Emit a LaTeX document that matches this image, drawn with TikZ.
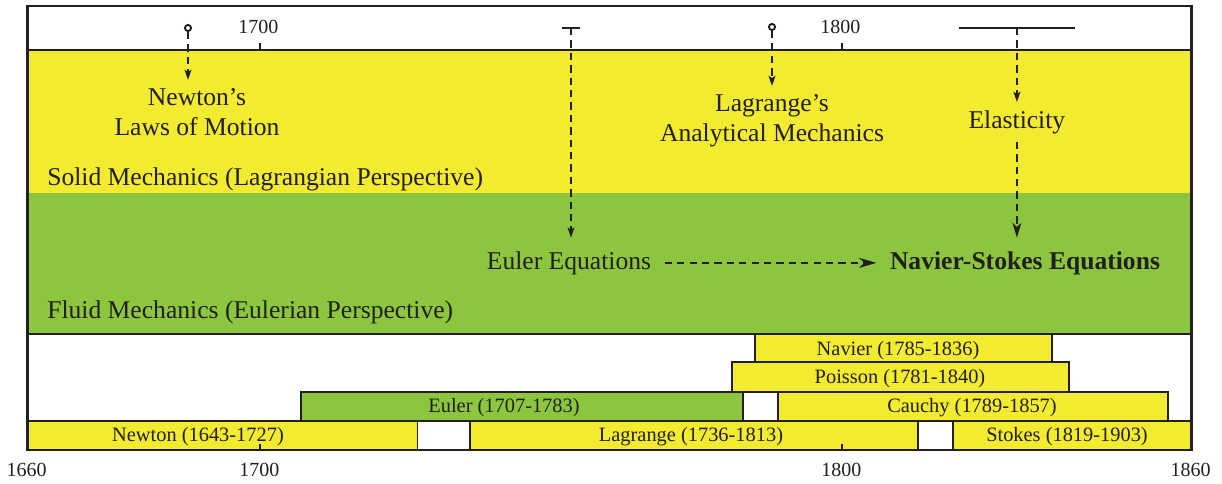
\documentclass[tikz,border=0pt]{standalone}
\usepackage{fontspec}
\setmainfont{Liberation Serif}
\usetikzlibrary{arrows.meta}

\definecolor{solidyellow}{HTML}{F3EB30}
\definecolor{fluidgreen}{HTML}{8CC63F}
\definecolor{ink}{HTML}{231F20}

\begin{document}
\begin{tikzpicture}[x=0.75pt,y=-0.75pt,
    % year -> horizontal position on the time line
    declare function={yr(\t)=27.5+5.82*(\t-1660);},
    outline/.style={draw=ink,line width=1.8pt},
    lifebar/.style={draw=ink,line width=1.4pt},
    conn/.style={draw=ink,line width=1.9pt,dash pattern=on 5.5pt off 3.8pt,
                 -{Stealth[length=7.5pt,width=5pt,inset=1.5pt]}},
    bigconn/.style={conn,-{Stealth[length=13pt,width=7.5pt,inset=4pt]}},
    eventtext/.style={font=\fontsize{19.2}{22.5}\selectfont,align=center,
                      text=ink,inner sep=6pt},
    eqn/.style={font=\fontsize{19.2}{22.5}\selectfont,text=ink,inner sep=10pt,
                anchor=base},
    band/.style={font=\fontsize{19.2}{22.5}\selectfont,text=ink,inner sep=0pt,
                 anchor=base west},
    barlabel/.style={font=\fontsize{15.3}{18}\selectfont,text=ink,inner sep=0pt,
                     anchor=base},
    yeartext/.style={font=\fontsize{15}{18}\selectfont,text=ink,inner sep=0pt,
                     anchor=base},
    evmark/.style={circle,draw=ink,line width=1.4pt,fill=white,inner sep=0pt,
                   minimum size=4.6pt},
    spanmark/.style={draw=ink,line width=1.8pt}]

  \useasboundingbox (0,0) rectangle (1222,483);

  % the two perspectives
  \fill[solidyellow] ({yr(1660)},50)  rectangle ({yr(1860)},193);
  \fill[fluidgreen]  ({yr(1660)},193) rectangle ({yr(1860)},334);

  % life spans
  \draw[lifebar,fill=solidyellow] ({yr(1660)},421) rectangle ({yr(1727)},450);
  \draw[lifebar,fill=solidyellow] ({yr(1736)},421) rectangle ({yr(1813)},450);
  \draw[lifebar,fill=solidyellow] ({yr(1819)},421) rectangle ({yr(1860)},450);
  \draw[lifebar,fill=fluidgreen]  ({yr(1707)},392) rectangle ({yr(1783)},421);
  \draw[lifebar,fill=solidyellow] ({yr(1789)},392) rectangle ({yr(1856)},421);
  \draw[lifebar,fill=solidyellow] ({yr(1781)},362) rectangle ({yr(1839)},392);
  \draw[lifebar,fill=solidyellow] ({yr(1785)},334) rectangle ({yr(1836)},362);

  \node[barlabel] (newton)   at (198,441)  {Newton (1643-1727)};
  \node[barlabel] (lagrange) at (691,441)  {Lagrange (1736-1813)};
  \node[barlabel] (stokes)   at (1067,441) {Stokes (1819-1903)};
  \node[barlabel] (euler)    at (504,412)  {Euler (1707-1783)};
  \node[barlabel] (cauchy)   at (972,412)  {Cauchy (1789-1857)};
  \node[barlabel] (poisson)  at (900,383)  {Poisson (1781-1840)};
  \node[barlabel] (navier)   at (898,355)  {Navier (1785-1836)};

  % frame
  \draw[outline] ({yr(1660)},6) rectangle ({yr(1860)},450);
  \draw[outline] ({yr(1660)},50)  -- ({yr(1860)},50);
  \draw[outline] ({yr(1660)},334) -- ({yr(1860)},334);

  % time axis
  \foreach \y in {1700,1800} {
    \draw[ink,line width=1.3pt] ({yr(\y)},50) -- ++(0,-7);
    \draw[ink,line width=1.3pt] ({yr(\y)},450) -- ++(0,-6);
    \node[yeartext] (top\y) at ({yr(\y)-2},33) {\y};
  }
  \foreach \y in {1660,1700,1800,1860}
    \node[yeartext] (bot\y) at ({yr(\y)-1},476) {\y};

  \node[band] (solid) at (47,185) {Solid Mechanics (Lagrangian Perspective)};
  \node[band] (fluid) at (47,318) {Fluid Mechanics (Eulerian Perspective)};

  % events
  \node[evmark] (nmark) at (188,28) {};
  \node[eventtext,anchor=north] (nlaw) at (197,80) {Newton's\\Laws of Motion};
  \draw[conn] (nmark) -- (nmark |- nlaw.north);

  \coordinate (emark) at (571,28);
  \draw[spanmark] ([xshift=-6.4pt]emark) -- ([xshift=6.4pt]emark);
  \node[eqn] (eeq) at (569,269) {Euler Equations};
  \draw[conn] (emark) -- (emark |- eeq.north);

  \node[evmark] (lmark) at (772,27) {};
  \node[eventtext,anchor=north] (lmech) at (772,86)
       {Lagrange's\\Analytical Mechanics};
  \draw[conn] (lmark) -- (lmark |- lmech.north);

  \coordinate (elmarkl) at ({yr(1820)},28);
  \coordinate (elmarkr) at ({yr(1840)},28);
  \coordinate (elmark)  at ({yr(1830)},28);
  \draw[spanmark] (elmarkl) -- (elmarkr);
  \node[eventtext,anchor=north] (elas) at ({yr(1830)},102) {Elasticity};
  \draw[conn] (elmark) -- (elas.north);

  \node[eqn] (nse) at (1025,269) {\bfseries Navier-Stokes Equations};
  \draw[conn,-{Stealth[length=11pt,width=6.5pt,inset=3pt]}]
       (elas.south) -- (elas.south |- nse.north);
  \draw[bigconn] (eeq.east) -- (nse.west);
\end{tikzpicture}
\end{document}
